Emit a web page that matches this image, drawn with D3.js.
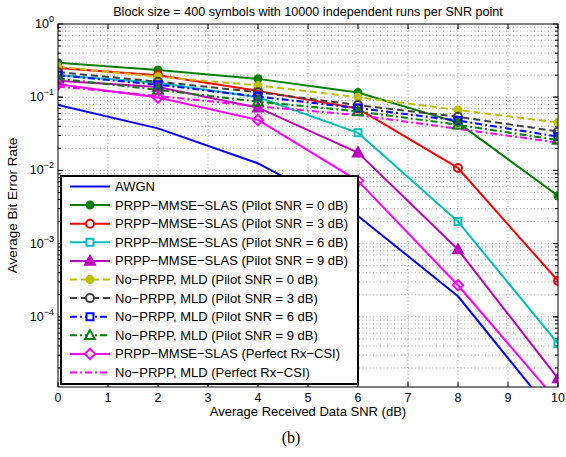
<!DOCTYPE html>
<html>
<head>
<meta charset="utf-8">
<script src="https://cdn.jsdelivr.net/npm/d3@7"></script>
<style>
  body { margin: 0; background: #fff; }
  svg { display: block; font-family: "Liberation Sans", Arial, sans-serif; }
</style>
</head>
<body>
<svg id="chart" width="566" height="457"></svg>
<script>
"use strict";

// x values (dB)
const snr = [0, 2, 4, 6, 8, 10];
const xTicks = [0, 1, 2, 3, 4, 5, 6, 7, 8, 9, 10];
const yDecades = [1, 1e-1, 1e-2, 1e-3, 1e-4];

// BER series
const awgn        = [0.0786, 0.0375, 0.0125, 0.00239, 0.000191, 0.0000039];
const prpp0       = [0.295, 0.236, 0.178, 0.116, 0.045, 0.0045];
const prpp3       = [0.25, 0.2, 0.122, 0.07, 0.0108, 0.00031];
const prpp6       = [0.2, 0.158, 0.1, 0.0326, 0.002, 0.000043];
const prpp9       = [0.168, 0.138, 0.072, 0.0175, 0.00083, 0.0000144];
const mld0        = [0.26, 0.19, 0.145, 0.1, 0.067, 0.045];
const mld3        = [0.22, 0.163, 0.117, 0.078, 0.054, 0.034];
const mld6        = [0.2, 0.148, 0.102, 0.071, 0.048, 0.029];
const mld9        = [0.18, 0.126, 0.087, 0.064, 0.042, 0.026];
const prppPerfect = [0.15, 0.099, 0.049, 0.0072, 0.00027, 0.0000069];
const mldPerfect  = [0.14, 0.104, 0.075, 0.057, 0.037, 0.024];

const labels = [
  "AWGN",
  "PRPP\u2212MMSE\u2212SLAS (Pilot SNR = 0 dB)",
  "PRPP\u2212MMSE\u2212SLAS (Pilot SNR = 3 dB)",
  "PRPP\u2212MMSE\u2212SLAS (Pilot SNR = 6 dB)",
  "PRPP\u2212MMSE\u2212SLAS (Pilot SNR = 9 dB)",
  "No\u2212PRPP, MLD (Pilot SNR = 0 dB)",
  "No\u2212PRPP, MLD (Pilot SNR = 3 dB)",
  "No\u2212PRPP, MLD (Pilot SNR = 6 dB)",
  "No\u2212PRPP, MLD (Pilot SNR = 9 dB)",
  "PRPP\u2212MMSE\u2212SLAS (Perfect Rx\u2212CSI)",
  "No\u2212PRPP, MLD (Perfect Rx\u2212CSI)"
];

const dashA = "7,4";
const dashDot = "7,3,2,3";
const series = [
  { values: awgn,        color: "#0000ff", dash: null,    marker: null },
  { values: prpp0,       color: "#008000", dash: null,    marker: "circle",   fill: true },
  { values: prpp3,       color: "#ff0000", dash: null,    marker: "circle",   fill: false },
  { values: prpp6,       color: "#00bfbf", dash: null,    marker: "square",   fill: false },
  { values: prpp9,       color: "#bf00bf", dash: null,    marker: "triangle", fill: true },
  { values: mld0,        color: "#bfbf00", dash: dashA,   marker: "circle",   fill: true },
  { values: mld3,        color: "#404040", dash: dashA,   marker: "circle",   fill: false },
  { values: mld6,        color: "#0000ff", dash: dashDot, marker: "square",   fill: false },
  { values: mld9,        color: "#008000", dash: dashDot, marker: "triangle", fill: false },
  { values: prppPerfect, color: "#ff00ff", dash: null,    marker: "diamond",  fill: false },
  { values: mldPerfect,  color: "#ff00ff", dash: dashDot, marker: null }
];

const margin = { left: 58, right: 8, top: 24, bottom: 70 };
const W = 566, H = 457;
const svg = d3.select("#chart");

const x = d3.scaleLinear().domain([0, 10]).range([margin.left, W - margin.right]);
const y = d3.scaleLog().domain([1.1e-5, 1]).range([H - margin.bottom, margin.top]);

const x0 = x.range()[0], x1 = x.range()[1];
const yb = y.range()[0], yt = y.range()[1];

svg.append("defs").append("clipPath").attr("id", "plotclip")
  .append("rect").attr("x", x0).attr("y", yt).attr("width", x1 - x0).attr("height", yb - yt);

// grid
const grid = svg.append("g")
  .attr("stroke", "#999").attr("stroke-width", 0.9).attr("stroke-dasharray", "1,2.5");
grid.selectAll("line.gx").data(xTicks.slice(1, -1)).enter().append("line")
  .attr("x1", d => x(d)).attr("x2", d => x(d)).attr("y1", yt).attr("y2", yb);

const minorVals = [];
[1e-5, 1e-4, 1e-3, 1e-2, 1e-1].forEach(dec => {
  for (let k = 1; k <= 9; k++) {
    const v = dec * k;
    if (v > 1.1e-5 && v < 1) minorVals.push(v);
  }
});
grid.selectAll("line.gy").data(minorVals).enter().append("line")
  .attr("x1", x0).attr("x2", x1).attr("y1", d => y(d)).attr("y2", d => y(d));

// ticks (inside, both sides)
const ticks = svg.append("g").attr("stroke", "#000").attr("stroke-width", 1);
xTicks.forEach(t => {
  ticks.append("line").attr("x1", x(t)).attr("x2", x(t)).attr("y1", yb).attr("y2", yb - 5);
  ticks.append("line").attr("x1", x(t)).attr("x2", x(t)).attr("y1", yt).attr("y2", yt + 5);
});
minorVals.forEach(v => {
  const major = yDecades.indexOf(v) >= 0;
  const len = major ? 5 : 3;
  ticks.append("line").attr("x1", x0).attr("x2", x0 + len).attr("y1", y(v)).attr("y2", y(v));
  ticks.append("line").attr("x1", x1).attr("x2", x1 - len).attr("y1", y(v)).attr("y2", y(v));
});
yDecades.forEach(v => {
  ticks.append("line").attr("x1", x0).attr("x2", x0 + 5).attr("y1", y(v)).attr("y2", y(v));
  ticks.append("line").attr("x1", x1).attr("x2", x1 - 5).attr("y1", y(v)).attr("y2", y(v));
});

// markers
function markerPath(type, s) {
  const h = s / 2;
  if (type === "circle") return d3.arc()({ innerRadius: 0, outerRadius: h, startAngle: 0, endAngle: 2 * Math.PI });
  if (type === "square") return `M${-h},${-h}H${h}V${h}H${-h}Z`;
  if (type === "triangle") return `M0,${-h * 1.15}L${h * 1.1},${h * 0.85}L${-h * 1.1},${h * 0.85}Z`;
  if (type === "diamond") return `M0,${-h * 1.3}L${h * 1.3},0L0,${h * 1.3}L${-h * 1.3},0Z`;
  return "";
}
function markerSize(type, filled) {
  if (type === "circle") return filled ? 7 : 8;
  if (type === "square") return 7;
  if (type === "triangle") return 9;
  return 8;
}

const line = d3.line().x((d, i) => x(snr[i])).y(d => y(d));
const plot = svg.append("g").attr("clip-path", "url(#plotclip)");

series.forEach(s => {
  plot.append("path")
    .attr("d", line(s.values))
    .attr("fill", "none")
    .attr("stroke", s.color)
    .attr("stroke-width", 2)
    .attr("stroke-dasharray", s.dash)
    .attr("stroke-linejoin", "round");
});
series.forEach(s => {
  if (!s.marker) return;
  plot.selectAll(null).data(s.values).enter().append("path")
    .attr("transform", (d, i) => `translate(${x(snr[i])},${y(d)})`)
    .attr("d", markerPath(s.marker, markerSize(s.marker, s.fill)))
    .attr("fill", s.fill ? s.color : "none")
    .attr("stroke", s.color)
    .attr("stroke-width", 2);
});

// axes box
svg.append("rect").attr("x", x0).attr("y", yt).attr("width", x1 - x0).attr("height", yb - yt)
  .attr("fill", "none").attr("stroke", "#000").attr("stroke-width", 1);

// tick labels
svg.append("g").selectAll("text").data(xTicks).enter().append("text")
  .attr("x", d => x(d)).attr("y", yb + 15)
  .attr("text-anchor", "middle").attr("font-size", 12.5).text(d => d);

const yl = svg.append("g");
yDecades.forEach(v => {
  const e = Math.round(Math.log10(v));
  const t = yl.append("text").attr("y", y(v) + 4).attr("x", x0 - 4)
    .attr("text-anchor", "end").attr("font-size", 12.5);
  t.append("tspan").text("10");
  t.append("tspan").attr("font-size", 9).attr("dy", -6).text(e === 0 ? "0" : "\u2212" + (-e));
});

// titles
svg.append("text").attr("x", (x0 + x1) / 2).attr("y", 16).attr("text-anchor", "middle")
  .attr("font-size", 12.6).text("Block size = 400 symbols with 10000 independent runs per SNR point");
svg.append("text").attr("x", (x0 + x1) / 2).attr("y", 416).attr("text-anchor", "middle")
  .attr("font-size", 13).text("Average Received Data SNR (dB)");
svg.append("text").attr("transform", `translate(17,${(yt + yb) / 2}) rotate(-90)`)
  .attr("text-anchor", "middle").attr("font-size", 13.5).text("Average Bit Error Rate");
svg.append("text").attr("x", 291).attr("y", 443).attr("text-anchor", "middle")
  .attr("font-family", "'Liberation Serif', 'Times New Roman', serif").attr("font-size", 16).text("(b)");

// legend
const lg = svg.append("g");
const lgX = 61, lgY = 176, lgW = x(6) - 61, lgH = 208;
lg.append("rect").attr("x", lgX).attr("y", lgY).attr("width", lgW).attr("height", lgH)
  .attr("fill", "#fff").attr("stroke", "#000").attr("stroke-width", 2);
series.forEach((s, i) => {
  const yy = lgY + 10.5 + i * 18.6;
  lg.append("line").attr("x1", lgX + 9).attr("x2", lgX + 49).attr("y1", yy).attr("y2", yy)
    .attr("stroke", s.color).attr("stroke-width", 2).attr("stroke-dasharray", s.dash);
  if (s.marker) {
    lg.append("path").attr("transform", `translate(${lgX + 29},${yy})`)
      .attr("d", markerPath(s.marker, markerSize(s.marker, s.fill)))
      .attr("fill", s.fill ? s.color : "#fff").attr("stroke", s.color).attr("stroke-width", 2);
  }
  lg.append("text").attr("x", lgX + 54).attr("y", yy + 4.5).attr("font-size", 13).text(labels[i]);
});
</script>
</body>
</html>
